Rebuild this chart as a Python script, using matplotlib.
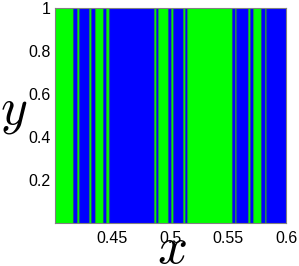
import numpy as np
import matplotlib
matplotlib.use("Agg")
import matplotlib.pyplot as plt
from matplotlib.colors import ListedColormap

# band edges along x and the state of each band (1 = green, 0 = blue)
edges = [0.4, 0.4161, 0.4191, 0.4213, 0.4301, 0.4316, 0.4349, 0.4418, 0.4441,
         0.4467, 0.4858, 0.4876, 0.4896, 0.4982, 0.5005, 0.5025, 0.5113,
         0.5126, 0.5148, 0.5536, 0.5560, 0.5569, 0.5670, 0.5687, 0.5711,
         0.5785, 0.5820, 0.5828, 0.6]
states = [1, 0, 1, 0, 1, 0, 1, 0, 1, 0, 1, 0, 1, 0,
          1, 0, 1, 0, 1, 0, 1, 0, 1, 0, 1, 0, 1, 0]
xticks = [0.45, 0.5, 0.55, 0.6]
yticks = [0.2, 0.4, 0.6, 0.8, 1]

plt.rcParams['mathtext.fontset'] = 'cm'
plt.rcParams['font.family'] = ['Liberation Sans', 'DejaVu Sans']

fig = plt.figure(figsize=(2.99, 2.66), dpi=100)
ax = fig.add_axes([0.1826, 0.1635, 0.774, 0.808])

cmap = ListedColormap(['#0000ff', '#00ff00'])
ax.pcolormesh(edges, [0, 1], np.array(states)[None, :], cmap=cmap,
              vmin=0, vmax=1, shading='flat')
ax.vlines(edges[1:-1], 0, 1, colors='#2a6a6a', linewidth=0.8, alpha=0.75)

ax.set_xlim(0.4, 0.6)
ax.set_ylim(0, 1)
ax.set_xticks(xticks)
ax.set_xticklabels(['0.45', '0.5', '0.55', '0.6'])
ax.set_yticks(yticks)
ax.set_yticklabels(['0.2', '0.4', '0.6', '0.8', '1'])
ax.tick_params(length=0, labelsize=11.5)
ax.tick_params(axis='x', pad=6)
ax.tick_params(axis='y', pad=3)
for s in ax.spines.values():
    s.set_color('#808080')
    s.set_linewidth(0.8)

fig.text(172 / 299, 1 - 249 / 266, '$x$', fontsize=38, ha='center', va='center')
fig.text(14 / 299, 1 - 111 / 266, '$y$', fontsize=37, ha='center', va='center')

fig.savefig('out.png', dpi=100)
